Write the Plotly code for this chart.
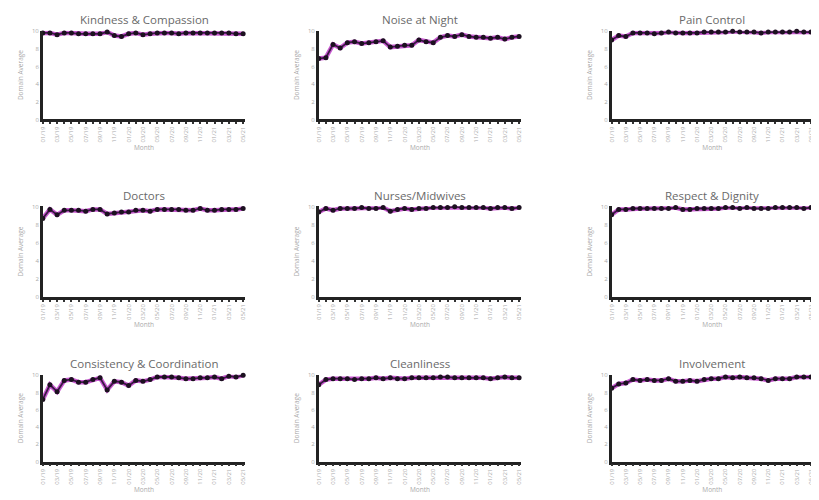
import plotly.graph_objects as go

months = ["01/19","02/19","03/19","04/19","05/19","06/19","07/19","08/19","09/19","10/19","11/19","12/19",
          "01/20","02/20","03/20","04/20","05/20","06/20","07/20","08/20","09/20","10/20","11/20","12/20",
          "01/21","02/21","03/21","04/21","05/21"]

titles = ["Kindness & Compassion", "Noise at Night", "Pain Control",
          "Doctors", "Nurses/Midwives", "Respect & Dignity",
          "Consistency & Coordination", "Cleanliness", "Involvement"]

kindness = [9.8, 9.8, 9.6, 9.8, 9.8, 9.7, 9.7, 9.7, 9.7, 9.9, 9.5, 9.4, 9.7, 9.8, 9.6, 9.7, 9.8, 9.8, 9.8, 9.7, 9.8, 9.8, 9.8, 9.8, 9.8, 9.8, 9.8, 9.7, 9.7]
noise = [6.9, 7.0, 8.5, 8.1, 8.7, 8.8, 8.6, 8.7, 8.8, 8.9, 8.2, 8.3, 8.4, 8.4, 9.0, 8.8, 8.7, 9.3, 9.5, 9.4, 9.6, 9.4, 9.3, 9.3, 9.2, 9.3, 9.1, 9.3, 9.4]
pain = [9.0, 9.5, 9.4, 9.8, 9.8, 9.8, 9.7, 9.8, 9.9, 9.8, 9.8, 9.8, 9.8, 9.9, 9.9, 9.9, 9.9, 10.0, 9.9, 9.9, 9.9, 9.8, 9.9, 9.9, 9.9, 9.9, 10.0, 9.9, 9.9]
doctors = [8.7, 9.7, 9.1, 9.6, 9.6, 9.6, 9.5, 9.7, 9.7, 9.2, 9.3, 9.4, 9.4, 9.6, 9.6, 9.5, 9.7, 9.7, 9.7, 9.7, 9.6, 9.6, 9.8, 9.6, 9.6, 9.7, 9.7, 9.7, 9.8]
nurses = [9.4, 9.8, 9.6, 9.8, 9.8, 9.8, 9.9, 9.8, 9.8, 9.9, 9.5, 9.7, 9.8, 9.7, 9.8, 9.8, 9.9, 9.9, 9.9, 10.0, 9.9, 9.9, 9.9, 9.9, 9.8, 9.9, 9.9, 9.8, 9.9]
respect = [9.1, 9.7, 9.7, 9.8, 9.8, 9.8, 9.8, 9.8, 9.8, 9.9, 9.7, 9.7, 9.8, 9.8, 9.8, 9.8, 9.9, 9.9, 9.8, 9.9, 9.8, 9.8, 9.8, 9.9, 9.9, 9.9, 9.9, 9.8, 9.9]
consistency = [7.2, 8.9, 8.1, 9.4, 9.5, 9.2, 9.2, 9.5, 9.7, 8.3, 9.3, 9.2, 8.8, 9.4, 9.3, 9.5, 9.8, 9.8, 9.8, 9.7, 9.6, 9.6, 9.7, 9.7, 9.8, 9.6, 9.9, 9.8, 10.0]
cleanliness = [8.9, 9.5, 9.6, 9.6, 9.6, 9.5, 9.6, 9.6, 9.7, 9.6, 9.7, 9.6, 9.6, 9.7, 9.7, 9.7, 9.7, 9.8, 9.8, 9.7, 9.7, 9.7, 9.7, 9.7, 9.6, 9.7, 9.8, 9.7, 9.7]
involvement = [8.5, 9.0, 9.1, 9.5, 9.4, 9.5, 9.4, 9.4, 9.6, 9.3, 9.3, 9.4, 9.3, 9.5, 9.6, 9.6, 9.8, 9.7, 9.8, 9.7, 9.7, 9.6, 9.4, 9.6, 9.6, 9.6, 9.8, 9.8, 9.8]

series = [kindness, noise, pain, doctors, nurses, respect, consistency, cleanliness, involvement]

W, H = 819, 500
OFF = 8  # page body margin
col_px = [(39, 243), (317, 521), (612, 815)]
row_px = [(28, 118), (206, 298), (377, 465)]

idx = list(range(len(months)))
fig = go.Figure()
annotations = []
for k, (title, vals) in enumerate(zip(titles, series)):
    r, c = divmod(k, 3)
    n = k + 1
    xa = "x" if n == 1 else f"x{n}"
    ya = "y" if n == 1 else f"y{n}"
    fig.add_trace(go.Scatter(x=idx, y=vals, mode="lines", xaxis=xa, yaxis=ya,
                             line=dict(color="rgba(190,60,200,0.85)", width=4.5),
                             hoverinfo="skip", showlegend=False, cliponaxis=False))
    fig.add_trace(go.Scatter(x=idx, y=vals, mode="lines+markers", xaxis=xa, yaxis=ya,
                             line=dict(color="#3a1a44", width=1.8),
                             marker=dict(color="#1c1020", size=5),
                             showlegend=False, cliponaxis=False))
    x0, x1 = col_px[c]
    t0, t1 = row_px[r]
    xd = [(x0 - OFF) / W, (x1 - OFF) / W]
    yd = [1 - (t1 - OFF) / H, 1 - (t0 - OFF) / H]
    xkey = "xaxis" if n == 1 else f"xaxis{n}"
    ykey = "yaxis" if n == 1 else f"yaxis{n}"
    fig.layout[xkey] = dict(
        domain=xd, anchor=ya, range=[0, 28.3],
        tickvals=idx[::2], ticktext=months[::2], tickangle=-90,
        tickfont=dict(size=6, color="#aaaaaa", family="Open Sans"),
        showline=True, linecolor="#222222", linewidth=2.5,
        ticks="outside", ticklen=2, tickcolor="#333333", tickwidth=1.5,
        minor=dict(ticks="outside", dtick=1, ticklen=2, tickcolor="#333333", tickwidth=1.5),
        showgrid=False, zeroline=False,
        title=dict(text="Month", font=dict(size=6.5, color="#aaaaaa", family="Open Sans"), standoff=1),
    )
    fig.layout[ykey] = dict(
        domain=yd, anchor=xa, range=[0, 10.05],
        tickvals=[0, 2, 4, 6, 8, 10],
        tickfont=dict(size=6, color="#aaaaaa", family="Open Sans"),
        showline=True, linecolor="#222222", linewidth=2.5,
        ticks="", showgrid=False, zeroline=False,
        title=dict(text="Domain Average", font=dict(size=6.5, color="#aaaaaa", family="Open Sans"), standoff=8),
    )
    annotations.append(dict(text=title, x=(xd[0] + xd[1]) / 2, y=1 - (t0 - 11 - OFF) / H,
                            xref="paper", yref="paper", showarrow=False,
                            xanchor="center", yanchor="middle",
                            font=dict(size=11.5, color="#6a6a6a", family="Open Sans")))

fig.update_layout(width=W, height=H, margin=dict(l=0, r=0, t=0, b=0),
                  paper_bgcolor="white", plot_bgcolor="white",
                  annotations=annotations, showlegend=False)
fig.write_html("out.html")
